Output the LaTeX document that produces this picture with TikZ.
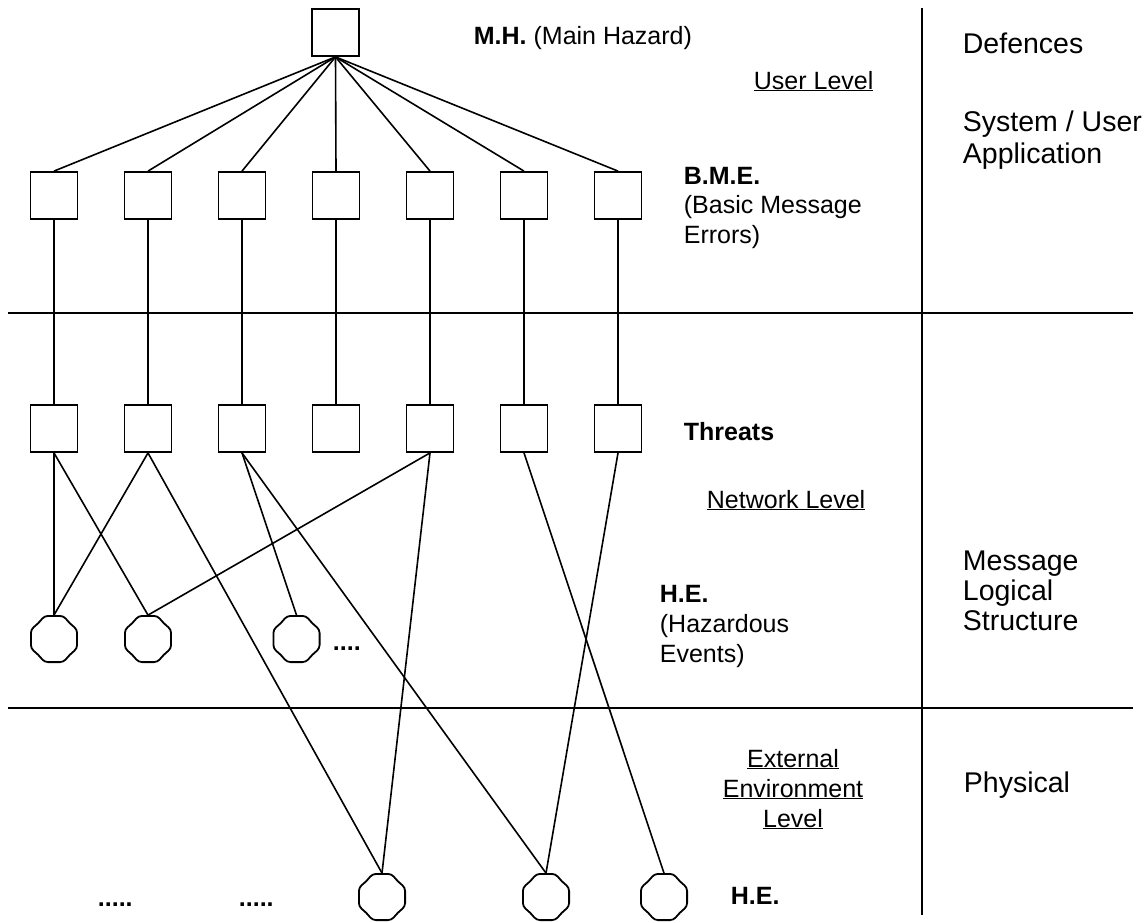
\documentclass[tikz,border=0pt]{standalone}
\usepackage{fontspec}
\setmainfont{Liberation Sans}
\usetikzlibrary{calc}
\begin{document}
\begin{tikzpicture}[x=1pt, y=-1pt, line width=1.8pt,
  box/.style={draw, minimum size=47pt, inner sep=0pt},
  hev/.style={circle, minimum size=46pt, inner sep=0pt},
  lbl/.style={anchor=base west, inner sep=0pt, font=\fontsize{25}{30}\selectfont},
  clbl/.style={anchor=base, inner sep=0pt, font=\fontsize{25}{30}\selectfont},
  dlbl/.style={anchor=base west, inner sep=0pt, font=\fontsize{28.5}{32}\selectfont},
  link/.style={line width=1.6pt}]
\useasboundingbox (0,0) rectangle (1145,922);

% layer separators
\coordinate (h1l) at (8,313);    \coordinate (h1r) at (1133,313);
\coordinate (h2l) at (8,708);    \coordinate (h2r) at (1133,708);
\coordinate (vt)  at (922,8);    \coordinate (vb)  at (922,915);
\draw (h1l) -- (h1r);
\draw (h2l) -- (h2r);
\draw (vt) -- (vb);

% main hazard
\node[box] (mh) at (335.5,32.5) {};

% basic message errors and threats
\foreach \i/\x in {1/54,2/148,3/242,4/336,5/430,6/524,7/618}{
  \node[box] (b\i) at (\x,195.5) {};
  \node[box] (t\i) at (\x,428.5) {};
  \draw[link] (mh.south) -- (b\i.north);
  \draw[link] (b\i.south) -- (t\i.north);
}

% hazardous events (network level)
\node[hev] (e1) at (54,639) {};
\node[hev] (e2) at (148,639) {};
\node[hev] (e3) at (296.5,639) {};

% hazardous events (external environment level)
\node[hev] (f1) at (382,897) {};
\node[hev] (f2) at (546,897) {};
\node[hev] (f3) at (664,897) {};

% event outlines: rounded octagon with slightly wavy diagonal sides
\foreach \n in {e1,e2,e3,f1,f2,f3}{
  \draw[rounded corners=3.5pt]
    ($(\n.center)+(22.5:25)$) -- ($(\n.center)+(45:22.2)$) --
    ($(\n.center)+(67.5:25)$) -- ($(\n.center)+(112.5:25)$) --
    ($(\n.center)+(135:22.2)$) -- ($(\n.center)+(157.5:25)$) --
    ($(\n.center)+(202.5:25)$) -- ($(\n.center)+(225:22.2)$) --
    ($(\n.center)+(247.5:25)$) -- ($(\n.center)+(292.5:25)$) --
    ($(\n.center)+(315:22.2)$) -- ($(\n.center)+(337.5:25)$) -- cycle;
}

% threat -> event links
\draw[link] (t1.south) -- (e1.north);
\draw[link] (t1.south) -- (e2.north);
\draw[link] (t2.south) -- (e1.north);
\draw[link] (t2.south) -- (f1.north);
\draw[link] (t3.south) -- (e3.north);
\draw[link] (t3.south) -- (f2.north);
\draw[link] (t5.south) -- (e2.north);
\draw[link] (t5.south) -- (f1.north);
\draw[link] (t6.south) -- (f3.north);
\draw[link] (t7.south) -- (f2.north);

% continuation dots
\node[lbl] (dots1) at (332,650) {\textbf{....}};
\node[lbl] (dots2) at (97,906) {\textbf{.....}};
\node[lbl] (dots3) at (238,906) {\textbf{.....}};

% level annotations
\node[lbl] (mhl) at (473,44) {\textbf{M.H.} (Main Hazard)};
\node[lbl] (ul) at (753,89) {\underline{User Level}};
\node[lbl] (bme1) at (683,184) {\textbf{B.M.E.}};
\node[lbl] (bme2) at (683,213) {(Basic Message};
\node[lbl] (bme3) at (683,243) {Errors)};
\node[lbl] (thr) at (683,440) {\textbf{Threats}};
\node[lbl] (nl) at (706,508) {\underline{Network Level}};
\node[lbl] (he1) at (659,602) {\textbf{H.E.}};
\node[lbl] (he2) at (659,632) {(Hazardous};
\node[lbl] (he3) at (659,662) {Events)};
\node[clbl] (el1) at (793,767) {\underline{External}};
\node[clbl] (el2) at (793,797) {\underline{Environment}};
\node[clbl] (el3) at (793,827) {\underline{Level}};
\node[lbl] (heb) at (730,904) {\textbf{H.E.}};

% defence column
\node[dlbl] (def) at (962,53) {Defences};
\node[dlbl] (sys1) at (962,131) {System / User};
\node[dlbl] (sys2) at (962,163) {Application};
\node[dlbl] (msg1) at (962,570) {Message};
\node[dlbl] (msg2) at (962,600) {Logical};
\node[dlbl] (msg3) at (962,630) {Structure};
\node[dlbl] (phy) at (963,792) {Physical};
\end{tikzpicture}
\end{document}
